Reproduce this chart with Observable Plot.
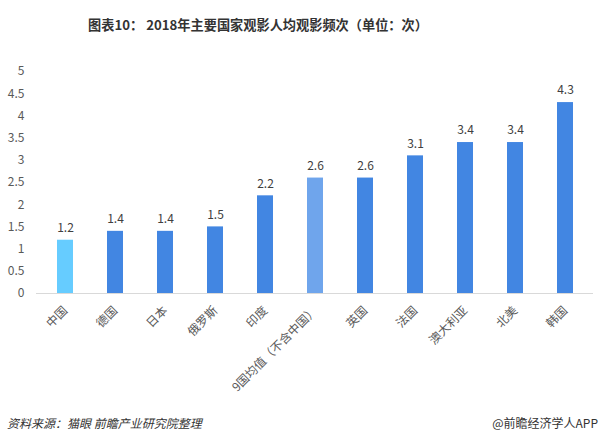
<!DOCTYPE html>
<html><head><meta charset="utf-8">
<script src="https://cdn.jsdelivr.net/npm/d3@7"></script>
<script src="https://cdn.jsdelivr.net/npm/@observablehq/plot@0.6"></script>
<style>
body{margin:0;background:#fff;font-family:"Noto Sans CJK SC",sans-serif;}
#wrap{position:relative;width:606px;height:442px;overflow:hidden;}
#title{position:absolute;left:0;top:0;width:606px;height:50px;line-height:50px;text-align:center;font-weight:bold;font-size:13.2px;color:#333;padding-right:90px;box-sizing:border-box;}
#chart{position:absolute;left:0;top:50px;}
#src{position:absolute;left:7px;top:412px;font-size:12px;font-style:italic;color:#333;line-height:22px;}
#app{position:absolute;right:8px;top:412px;font-size:12px;color:#333;line-height:22px;}
</style></head>
<body><div id="wrap">
<div id="title">图表10： 2018年主要国家观影人均观影频次（单位：次）</div>
<div id="chart"></div>
<div id="src">资料来源：猫眼 前瞻产业研究院整理</div>
<div id="app">@前瞻经济学人APP</div>
</div>
<script>
const categories = ["中国","德国","日本","俄罗斯","印度","9国均值（不含中国）","英国","法国","澳大利亚","北美","韩国"];
const values = [1.2,1.4,1.4,1.5,2.2,2.6,2.6,3.1,3.4,3.4,4.3];
const yTicks = [0,0.5,1,1.5,2,2.5,3,3.5,4,4.5,5];
const colorChina = "#66CCFF", colorAvg = "#6FA5EC", colorMain = "#4286E2";
const data = categories.map((c,i)=>({cat:c, v:values[i], color: c==="中国"?colorChina:(c.startsWith("9国")?colorAvg:colorMain)}));
const chart = Plot.plot({
  width:606, height:362,
  marginTop:21, marginBottom:119, marginLeft:36, marginRight:13,
  style:{fontFamily:"'Noto Sans CJK SC',sans-serif", fontSize:"12px", color:"#595959", background:"transparent"},
  x:{domain:categories, paddingInner:0.68, paddingOuter:0.34, label:null},
  y:{domain:[0,5], label:null},
  marks:[
    Plot.axisY({ticks:yTicks, tickSize:0, tickPadding:12, tickFormat:d=>String(d), fontSize:12, label:null}),
    Plot.axisX({tickSize:0, tickPadding:15, tickRotate:-45, fontSize:12, label:null}),
    Plot.barY(data,{x:"cat", y:"v", fill:"color"}),
    Plot.ruleY([0],{stroke:"#d9d9d9", strokeWidth:1}),
    Plot.text(data,{x:"cat", y:"v", text:d=>d.v.toFixed(1), dy:-12, fontSize:12, fill:"#404040"})
  ]
});
document.getElementById("chart").appendChild(chart);
</script>
</body></html>
